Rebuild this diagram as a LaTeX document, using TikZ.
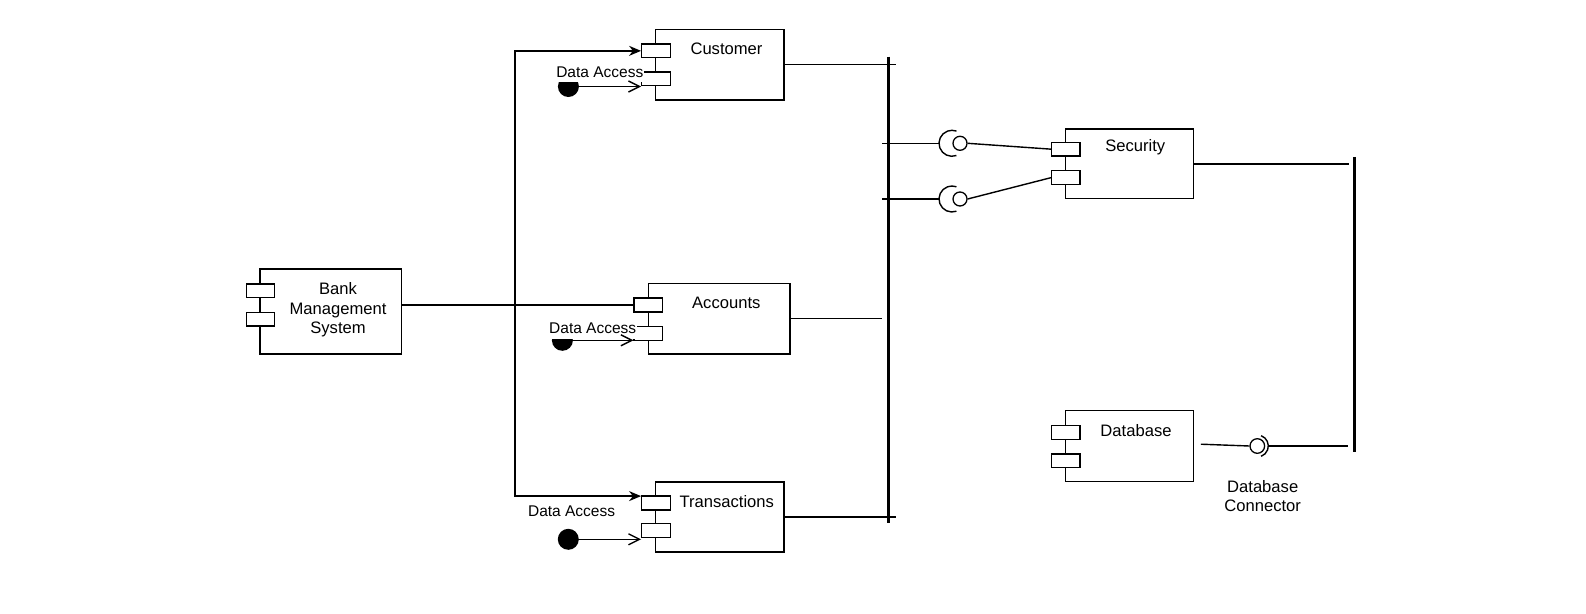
\documentclass[tikz,border=0pt]{standalone}
\usepackage{fontspec}
\setmainfont{Liberation Sans}
\usetikzlibrary{arrows.meta}
\begin{document}
\begin{tikzpicture}[x=1pt,y=-1pt,
  comp/.style={draw,line width=1.3pt,fill=white,inner sep=0pt},
  port/.style={draw,line width=1.3pt,fill=white,inner sep=0pt,minimum width=28.6pt,minimum height=13.8pt},
  txt/.style={font=\fontsize{16.6}{19.3}\selectfont,inner sep=1pt,align=center},
  datxt/.style={font=\fontsize{15.5}{19}\selectfont,inner sep=1pt,align=center},
  dalbl/.style={datxt,fill=white,inner xsep=1pt,inner ysep=5pt},
  ln/.style={line width=1.4pt},
  barln/.style={line width=3pt},
  ball/.style={circle,fill=black,minimum size=21pt,inner sep=0pt},
  iball/.style={circle,draw,line width=1.3pt,fill=white,minimum size=14pt,inner sep=0pt},
  solidarr/.style={ln,-{Stealth[length=12pt,width=10pt]}},
  openarr/.style={ln,-{Straight Barb[length=11pt,width=11pt]}},
]
\useasboundingbox (0,0) rectangle (1586,613);

% ---------- components ----------
\node[comp,minimum width=141.6pt,minimum height=85pt] (bms) at (330.8,311.5) {};
\node[port] (bmsP1) at (260.5,290.8) {};
\node[port] (bmsP2) at (260.5,319.1) {};
\node[txt] (bmsT) at (338,310) {Bank\\Management\\System};

\node[comp,minimum width=128.4pt,minimum height=70.7pt] (cust) at (719.8,64.65) {};
\node[port] (custP1) at (656,50.85) {};
\node[port] (custP2) at (656,78.85) {};
\node[txt] (custT) at (726.5,48.5) {Customer};

\node[comp,minimum width=141.6pt,minimum height=70.8pt] (acc) at (719.2,318.6) {};
\node[port] (accP1) at (648.4,305) {};
\node[port] (accP2) at (648.4,333.3) {};
\node[txt] (accT) at (726.3,302.4) {Accounts};

\node[comp,minimum width=128.4pt,minimum height=70pt] (trans) at (719.8,517) {};
\node[port] (transP1) at (656,503) {};
\node[port] (transP2) at (656,530.7) {};
\node[txt] (transT) at (726.8,501.7) {Transactions};

\node[comp,minimum width=127.6pt,minimum height=69.7pt] (sec) at (1129.5,163.85) {};
\node[port] (secP1) at (1065.8,149.15) {};
\node[port] (secP2) at (1065.8,177.7) {};
\node[txt] (secT) at (1135.3,147.3) {Security};

\node[comp,minimum width=127.6pt,minimum height=71pt] (db) at (1129.5,446.2) {};
\node[port] (dbP1) at (1065.8,432.65) {};
\node[port] (dbP2) at (1065.8,460.85) {};
\node[txt] (dbT) at (1136,430.7) {Database};

% ---------- data access balls and labels ----------
\node[ball] (custBall) at (568.4,86.5) {};
\node[dalbl] (custDA) at (599.8,72) {Data Access};
\node[ball] (accBall) at (562.4,340.3) {};
\node[dalbl] (accDA) at (592.7,328.6) {Data Access};
\node[ball] (transBall) at (568.3,539.3) {};
\node[datxt] (transDA) at (571.6,511.2) {Data Access};

\draw[openarr] (custBall.center) -- (custBall.center -| custP2.west);
\draw[openarr] (accBall.center) -- (accBall.center -| accP2.west);
\draw[openarr] (transBall.center) -- (transBall.center -| transP2.west);

% ---------- trunk from Bank Management System ----------
\coordinate (trunk) at (515,305);
\draw[ln] (accP1.west -| bms.east) -- (accP1.west);
\draw[solidarr] (trunk) |- (custP1.west);
\draw[solidarr] (trunk) |- ([yshift=6.9pt]transP1.west);

% ---------- main bar ----------
\coordinate (barTop) at (888.3,56.6);
\coordinate (barBot) at (888.3,523);
\draw[barln] (barTop) -- (barBot);
\coordinate (custEnd) at (896,64.65);
\coordinate (accEnd) at (882,318.6);
\coordinate (transEnd) at (896,517);
\draw[ln] (cust.east) -- (custEnd);
\draw[ln] (acc.east) -- (accEnd);
\draw[ln] (trans.east) -- (transEnd);

% ---------- required interfaces to Security ----------
\coordinate (req1) at (882,143.3);
\coordinate (req2) at (882,199);
\draw[ln] (req1) -- (939,143.3);
\draw[ln] (req2) -- (939,199);
\draw[ln] (952,143.3) ++(70:13) arc[start angle=70,end angle=290,radius=13];
\draw[ln] (952,199) ++(70:13) arc[start angle=70,end angle=290,radius=13];
\node[iball] (sBall1) at (960,143.3) {};
\node[iball] (sBall2) at (960,199) {};
\draw[ln] (sBall1.east) -- (secP1.west);
\draw[ln] (sBall2.east) -- (secP2.west);

% ---------- right bar ----------
\coordinate (bar2Top) at (1354.5,156.8);
\coordinate (bar2Bot) at (1354.5,452);
\draw[barln] (bar2Top) -- (bar2Bot);
\coordinate (secEnd) at (1349,163.85);
\draw[ln] (sec.east) -- (secEnd);

% ---------- database connector ----------
\node[iball,minimum size=14.6pt] (dbBall) at (1257.3,446) {};
\draw[ln] ([xshift=7pt,yshift=2pt]db.east) -- (dbBall.west);
\draw[ln] (1257.3,446) ++(-70:11) arc[start angle=-70,end angle=70,radius=11];
\coordinate (dbEnd) at (1348,446);
\draw[ln] (1268.3,446) -- (dbEnd);
\node[txt] (dbConn) at (1262.7,496) {Database\\Connector};
\end{tikzpicture}
\end{document}
